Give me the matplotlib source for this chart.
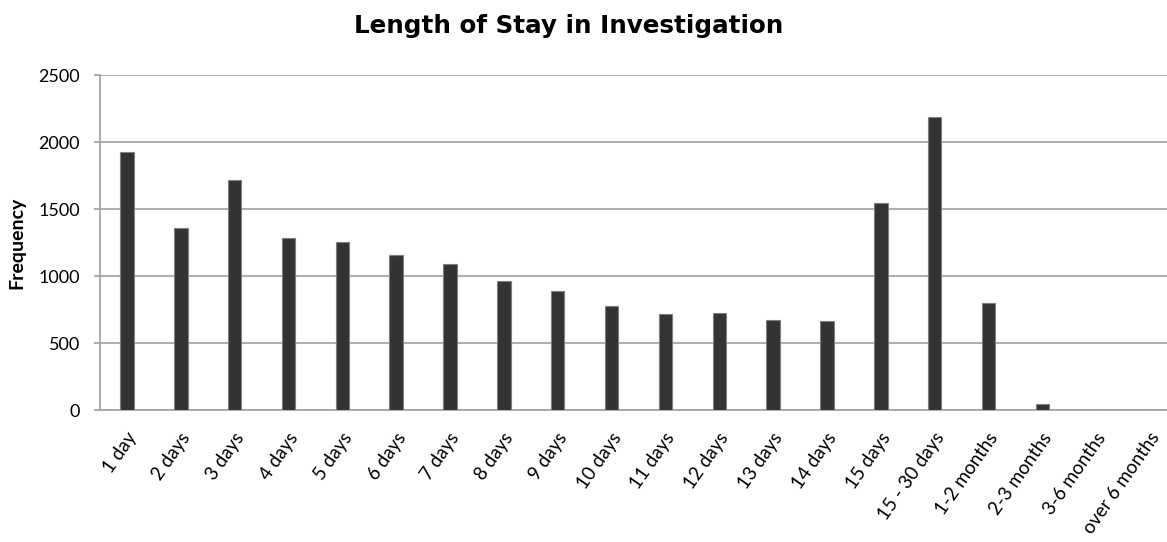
import numpy as np
import matplotlib.pyplot as plt
from matplotlib.transforms import ScaledTranslation

# categories and frequencies
categories = ['1 day', '2 days', '3 days', '4 days', '5 days', '6 days', '7 days',
              '8 days', '9 days', '10 days', '11 days', '12 days', '13 days',
              '14 days', '15 days', '15 - 30 days', '1-2 months', '2-3 months',
              '3-6 months', 'over 6 months']
frequency = [1925, 1358, 1719, 1286, 1251, 1157, 1090, 960, 888, 776, 716, 722,
             672, 664, 1547, 2188, 796, 45, 3, 3]
yticks = [0, 500, 1000, 1500, 2000, 2500]

fig = plt.figure(figsize=(11.67, 5.42), dpi=100)
# axes run a little past the right edge, as in the original crop
ax = fig.add_axes([0.0857, 0.2435, 0.9229, 0.618])

x = np.arange(len(categories))
ax.bar(x, frequency, width=0.25, color='#333333', edgecolor='#7f7f7f',
       linewidth=0.8, zorder=3)

ax.set_xlim(-0.5, len(categories) - 0.5)
ax.set_ylim(0, 2500)
ax.set_yticks(yticks)
ax.set_yticklabels([str(v) for v in yticks], fontsize=13, family='Lato')
ax.set_xticks(x)
ax.set_xticklabels(categories, rotation=55, ha='right', va='top',
                   rotation_mode='anchor', fontsize=13.5, family='Lato')
ax.tick_params(axis='x', length=0, pad=14)
ax.tick_params(axis='y', length=4.3, color='#a0a0a0', width=1.2, pad=10)

# nudge the slanted labels a little
shift = ScaledTranslation(-1 / 100, 0, fig.dpi_scale_trans)
for lab in ax.get_xticklabels():
    lab.set_transform(lab.get_transform() + shift)

ax.grid(axis='y', color='#a0a0a0', linewidth=1.2, zorder=0)
for s in ['top', 'right']:
    ax.spines[s].set_visible(False)
for s in ['left', 'bottom']:
    ax.spines[s].set_color('#a0a0a0')
    ax.spines[s].set_linewidth(1.2)

ax.set_ylabel('Frequency', fontsize=14, fontweight='bold', family='Lato')
ax.yaxis.set_label_coords(-0.069, 0.5)
fig.text(0.487, 0.975, 'Length of Stay in Investigation', fontsize=17.7,
         fontweight='bold', family='DejaVu Sans', ha='center', va='top')

fig.savefig('out.png', dpi=100)
